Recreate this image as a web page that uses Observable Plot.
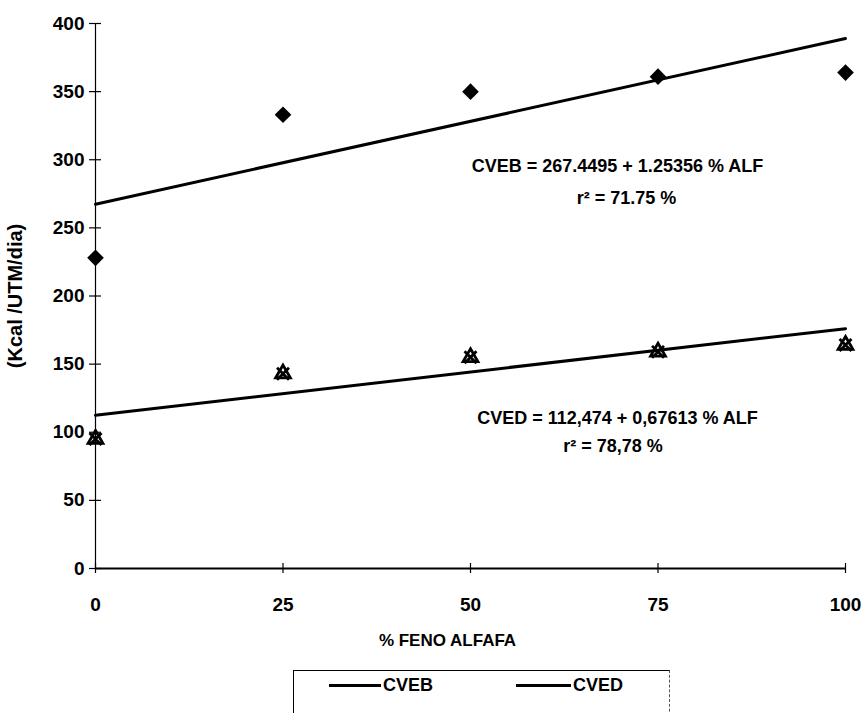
<!DOCTYPE html>
<html>
<head>
<meta charset="utf-8">
<script src="https://cdn.jsdelivr.net/npm/d3@7"></script>
<script src="https://cdn.jsdelivr.net/npm/@observablehq/plot@0.6"></script>
<style>
  html, body { margin: 0; padding: 0; background: #fff; overflow: hidden; }
  #chart { width: 863px; }
  .legend-wrap { position: relative; width: 863px; height: 60px; font-family: "Liberation Sans", Arial, sans-serif; font-weight: bold; }
  .legend-box { position: absolute; left: 293px; top: 10px; width: 375px; height: 60px; border-top: 1.5px solid #000; border-left: 1.5px solid #000; border-right: 1px dashed #555; }
  .legend-item { position: absolute; top: 4px; display: flex; align-items: center; font-size: 18px; color: #000; }
  .legend-item .sw { display: inline-block; height: 2.5px; background: #000; margin-right: 2px; }
</style>
</head>
<body>
<div id="chart"></div>
<script>
// ---- data ----
const xLevels = [0, 25, 50, 75, 100];           // % feno alfafa
const cvebValues = [228, 333, 350, 361, 364];    // CVEB observed
const cvedValues = [95, 143, 155, 159, 164];     // CVED observed
const fitX = [0, 100];
const cvebFit = [267.4, 389];                    // fitted CVEB line (ends)
const cvedFit = [112.5, 176];                    // fitted CVED line (ends)
const yTicks = [0, 50, 100, 150, 200, 250, 300, 350, 400];
const xTicks = [0, 25, 50, 75, 100];
const seriesNames = ["CVEB", "CVED"];
const cvebEquation = ["CVEB = 267.4495 + 1.25356 % ALF", "r\u00B2 = 71.75 %"];
const cvedEquation = ["CVED = 112,474 + 0,67613 % ALF", "r\u00B2 = 78,78 %"];
const xTitle = "% FENO ALFAFA";
const yTitle = "(Kcal /UTM/dia)";

// ---- tables built from arrays ----
const cvebPts = xLevels.map((x, i) => ({x, y: cvebValues[i]}));
const cvedPts = xLevels.map((x, i) => ({x, y: cvedValues[i]}));
const cvebLine = fitX.map((x, i) => ({x, y: cvebFit[i]}));
const cvedLine = fitX.map((x, i) => ({x, y: cvedFit[i]}));

const font = "'Liberation Sans', Arial, sans-serif";

const chart = Plot.plot({
  width: 863,
  height: 660,
  marginLeft: 95,
  marginRight: 18,
  marginTop: 23,
  marginBottom: 92,
  x: {domain: [0, 100]},
  y: {domain: [0, 400]},
  style: {fontFamily: font, fontWeight: "bold", color: "#000", background: "#fff", overflow: "visible"},
  marks: [
    Plot.axisY({ticks: yTicks, tickSize: 12, dx: 6, tickPadding: 5, fontSize: 19, label: null, strokeWidth: 1.2, letterSpacing: -0.5}),
    Plot.axisX({ticks: xTicks, tickSize: 10, dy: -5, tickPadding: 24, fontSize: 19, label: null, strokeWidth: 1.2, letterSpacing: -0.5}),
    Plot.ruleX([0], {y1: 0, y2: 400, stroke: "#000", strokeWidth: 1.2}),
    Plot.ruleY([0], {x1: 0, x2: 100, stroke: "#000", strokeWidth: 2}),
    Plot.line(cvebLine, {x: "x", y: "y", stroke: "#000", strokeWidth: 3}),
    Plot.line(cvedLine, {x: "x", y: "y", stroke: "#000", strokeWidth: 3}),
    Plot.dot(cvebPts, {x: "x", y: "y", symbol: "diamond2", r: 7.5, fill: "#000", stroke: "none"}),
    Plot.dot(cvedPts, {x: "x", y: "y", symbol: "triangle", r: 5.5, fill: "none", stroke: "#000", strokeWidth: 2.8}),
    Plot.dot(cvedPts, {x: "x", y: "y", symbol: "times", r: 5.5, stroke: "#000", strokeWidth: 2.8}),
    Plot.text([cvebEquation[0]], {x: 69.6, y: 295.5, fontSize: 18, letterSpacing: -0.4, fill: "#000"}),
    Plot.text([cvebEquation[1]], {x: 70.8, y: 272, fontSize: 18, letterSpacing: -0.4, fill: "#000"}),
    Plot.text([cvedEquation[0]], {x: 69.6, y: 110, fontSize: 18, letterSpacing: -0.4, fill: "#000"}),
    Plot.text([cvedEquation[1]], {x: 69.0, y: 90, fontSize: 18, letterSpacing: -0.4, fill: "#000"}),
    Plot.text([yTitle], {frameAnchor: "left", textAnchor: "middle", rotate: -90, dx: -80, fontSize: 20, fill: "#000"}),
    Plot.text([xTitle], {frameAnchor: "bottom", dx: -23, dy: 77, fontSize: 17, letterSpacing: -0.5, fill: "#000"})
  ]
});
document.getElementById("chart").appendChild(chart);

// ---- legend (HTML below the SVG) ----
const wrap = document.createElement("div");
wrap.className = "legend-wrap";
const box = document.createElement("div");
box.className = "legend-box";
const itemLeft = [35, 222];
const swatchWidth = [52, 55];
seriesNames.forEach((name, i) => {
  const it = document.createElement("div");
  it.className = "legend-item";
  it.style.left = itemLeft[i] + "px";
  const sw = document.createElement("span");
  sw.className = "sw";
  sw.style.width = swatchWidth[i] + "px";
  it.appendChild(sw);
  it.appendChild(document.createTextNode(name));
  box.appendChild(it);
});
wrap.appendChild(box);
document.body.appendChild(wrap);
</script>
</body>
</html>
